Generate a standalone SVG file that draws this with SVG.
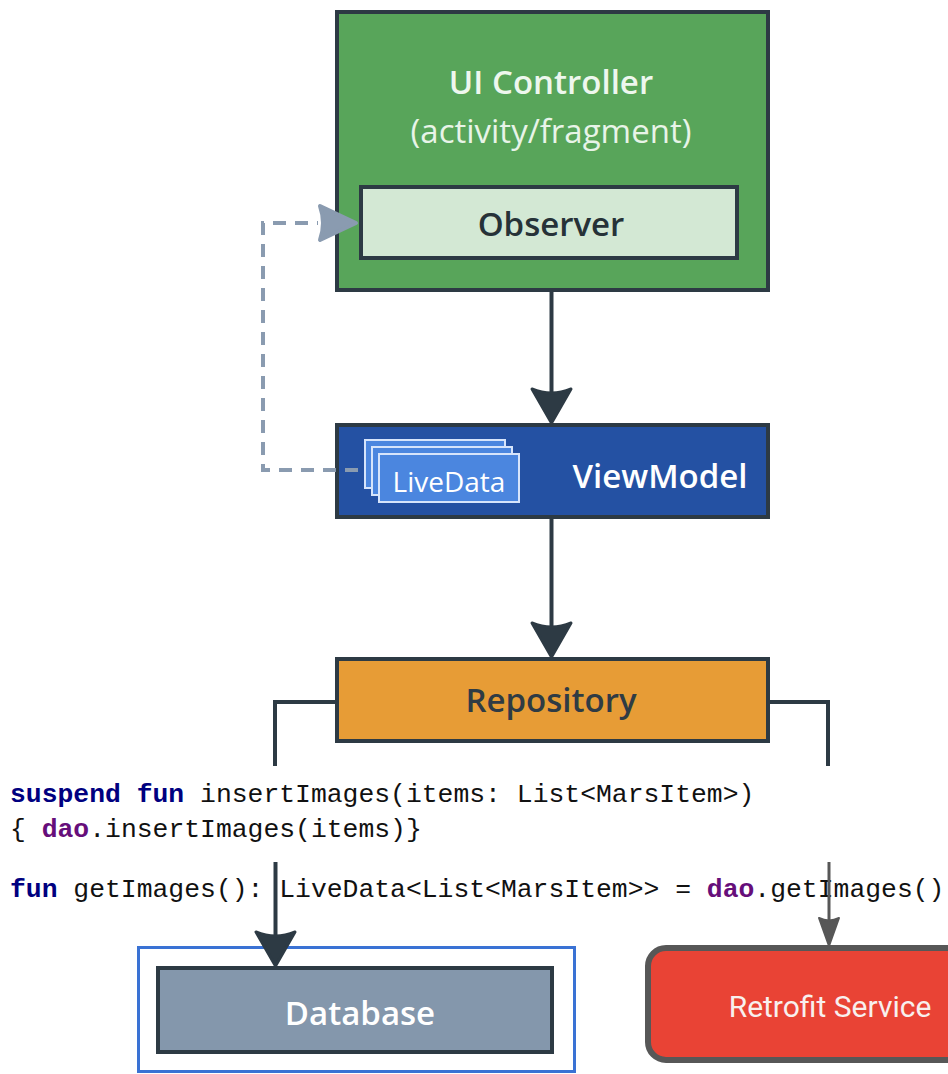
<svg xmlns="http://www.w3.org/2000/svg" width="948" height="1074" viewBox="0 0 948 1074">
<style>
.box{stroke:#2d3a44;stroke-width:4}
.lbl{font-family:"Open Sans","Liberation Sans",sans-serif;font-weight:600;font-size:33px;text-anchor:middle}
.con{fill:none;stroke:#2d3a44;stroke-width:4}
.code{font-family:"Liberation Mono","Courier New",monospace;font-size:26.4px;fill:#111}
.kw{font-weight:bold;fill:#000080}
.fld{font-weight:bold;fill:#660e7a}
</style>
<defs>
<path id="ah" d="M0,0 L-19.5,-34 Q0,-26 19.5,-34 Z" fill="#2d3a44" stroke="#2d3a44" stroke-width="3" stroke-linejoin="round"/>
</defs>
<rect width="948" height="1074" fill="#ffffff"/>

<g id="ui-controller">
<rect class="box" x="337" y="12" width="431" height="278" fill="#58a55a"/>
<text class="lbl" x="551" y="94" fill="#eef7ee">UI Controller</text>
<text x="551" y="143" font-family="'Open Sans','Liberation Sans',sans-serif" font-size="33" text-anchor="middle" fill="#e8f4e8">(activity/fragment)</text>
</g>
<g id="observer">
<rect class="box" x="361" y="187" width="376" height="71" fill="#d3e8d4"/>
<text class="lbl" x="551" y="236" fill="#263238">Observer</text>
</g>

<g id="viewmodel">
<rect class="box" x="337" y="425" width="431" height="92" fill="#2451a3"/>
<text class="lbl" x="660" y="488" fill="#ffffff">ViewModel</text>
</g>
<g id="livedata">
<rect x="365" y="440" width="140" height="48" fill="#4b86df" stroke="#d6e4fb" stroke-width="2"/>
<rect x="372" y="447" width="140" height="48" fill="#4b86df" stroke="#d6e4fb" stroke-width="2"/>
<rect x="379" y="454" width="140" height="48" fill="#4b86df" stroke="#d6e4fb" stroke-width="2"/>
<text x="449" y="492" font-family="'Open Sans','Liberation Sans',sans-serif" font-size="28" text-anchor="middle" fill="#ffffff">LiveData</text>
</g>

<g id="repository">
<rect class="box" x="337" y="659" width="431" height="82" fill="#e79c36"/>
<text class="lbl" x="551" y="712" fill="#2f3b44">Repository</text>
</g>

<g id="code">
<text class="code" x="10" y="802"><tspan class="kw">suspend fun</tspan> insertImages(items: List&lt;MarsItem&gt;)</text>
<text class="code" x="10" y="837">{ <tspan class="fld">dao</tspan>.insertImages(items)}</text>
<text class="code" x="10" y="897"><tspan class="kw">fun</tspan> getImages(): LiveData&lt;List&lt;MarsItem&gt;&gt; = <tspan class="fld">dao</tspan>.getImages()</text>
</g>

<g id="database">
<rect x="138.5" y="947.5" width="436" height="124" fill="#ffffff" stroke="#3a72d4" stroke-width="3"/>
<rect x="158" y="968" width="394" height="84" fill="#8497ac" stroke="#2d3a44" stroke-width="4"/>
<text class="lbl" x="360" y="1025" fill="#ffffff">Database</text>
</g>

<g id="retrofit">
<rect x="648" y="948" width="320" height="112" rx="18" fill="#e94335" stroke="#575757" stroke-width="6"/>
<text x="830" y="1017" font-family="Roboto,'Liberation Sans',sans-serif" font-size="30" text-anchor="middle" fill="#f8f0ee">Retrofit Service</text>
</g>

<g id="connectors">
<line class="con" x1="551.5" y1="292" x2="551.5" y2="395"/>
<use href="#ah" x="551.5" y="423"/>
<line class="con" x1="551.5" y1="519" x2="551.5" y2="630"/>
<use href="#ah" x="551.5" y="657"/>
<polyline class="con" points="337,702 275,702 275,766"/>
<polyline class="con" points="768,702 828,702 828,766"/>
<path d="M358,470 H263 V223 H318" fill="none" stroke="#8a9bb0" stroke-width="4" stroke-dasharray="13,9"/>
<path d="M356,223 L320,206 Q326,223 320,240 Z" fill="#8a9bb0" stroke="#8a9bb0" stroke-width="4" stroke-linejoin="round"/>
<line class="con" x1="275.5" y1="862" x2="275.5" y2="940"/>
<use href="#ah" x="275.5" y="966"/>
<line x1="829" y1="862" x2="829" y2="922" stroke="#575757" stroke-width="3"/>
<path d="M829,946 L819,918 Q829,923 839,918 Z" fill="#575757" stroke="#575757" stroke-width="2" stroke-linejoin="round"/>
</g>
</svg>
